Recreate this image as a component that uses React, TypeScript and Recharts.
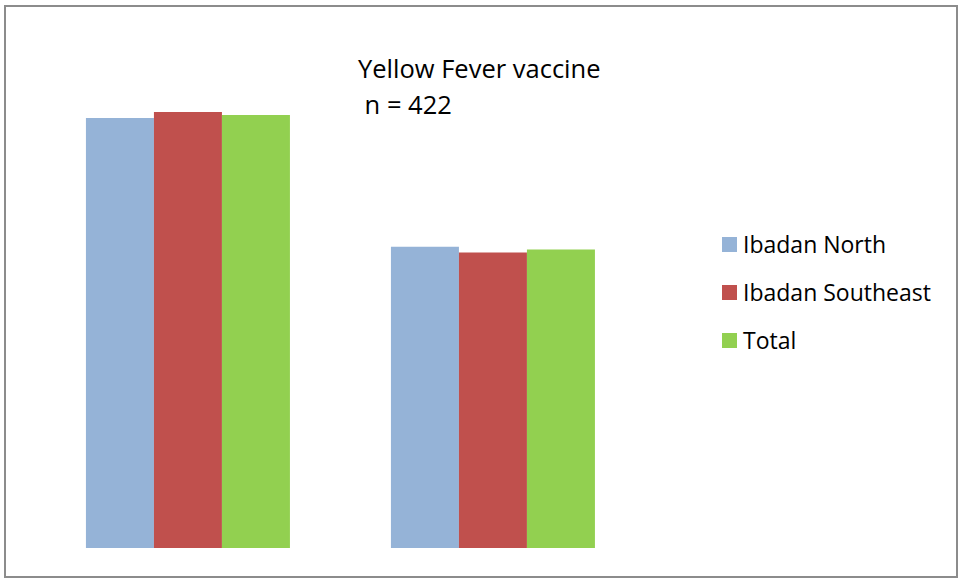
import React from "react";
import { BarChart, Bar, XAxis, YAxis } from "recharts";

const categories = ["Vaccinated", "Not vaccinated"];
const ibadanNorth = [58.8, 41.2];
const ibadanSoutheast = [59.6, 40.4];
const total = [59.2, 40.8];

const seriesNames = ["Ibadan North", "Ibadan Southeast", "Total"];
const colors = ["#95B3D7", "#C0504D", "#92D050"];

const data = categories.map((c, i) => ({
  category: c,
  north: ibadanNorth[i],
  southeast: ibadanSoutheast[i],
  total: total[i],
}));

const FONT = "'Open Sans', sans-serif";

export default function App() {
  return (
    <div style={{ position: "absolute", left: 0, top: 0, width: 960, height: 578, background: "#fff" }}>
      <div
        style={{
          position: "absolute",
          left: 4,
          top: 5,
          width: 950,
          height: 569,
          border: "2px solid #8c8c8c",
          pointerEvents: "none",
        }}
      />
      <div
        style={{
          position: "absolute",
          left: 358,
          top: 50,
          fontFamily: FONT,
          fontSize: 25.5,
          lineHeight: "36px",
          color: "#000",
          whiteSpace: "pre",
        }}
      >
        {"Yellow Fever vaccine\n n = 422"}
      </div>
      <div style={{ position: "absolute", left: 722, top: 220, fontFamily: FONT, fontSize: 23, color: "#000" }}>
        {seriesNames.map((n, i) => (
          <div key={n} style={{ display: "flex", alignItems: "center", height: 48 }}>
            <span style={{ display: "inline-block", width: 15, height: 15, background: colors[i], marginRight: 6 }} />
            <span>{n}</span>
          </div>
        ))}
      </div>
      <div style={{ position: "absolute", left: 0, top: 0 }}>
        <BarChart
          width={960}
          height={578}
          data={data}
          margin={{ top: 36, right: 315, bottom: 30, left: 35 }}
          barCategoryGap="16.7%"
          barGap={0}
        >
          <XAxis dataKey="category" hide />
          <YAxis hide domain={[0, 70]} />
          <Bar dataKey="north" name={seriesNames[0]} fill={colors[0]} isAnimationActive={false} />
          <Bar dataKey="southeast" name={seriesNames[1]} fill={colors[1]} isAnimationActive={false} />
          <Bar dataKey="total" name={seriesNames[2]} fill={colors[2]} isAnimationActive={false} />
        </BarChart>
      </div>
    </div>
  );
}
